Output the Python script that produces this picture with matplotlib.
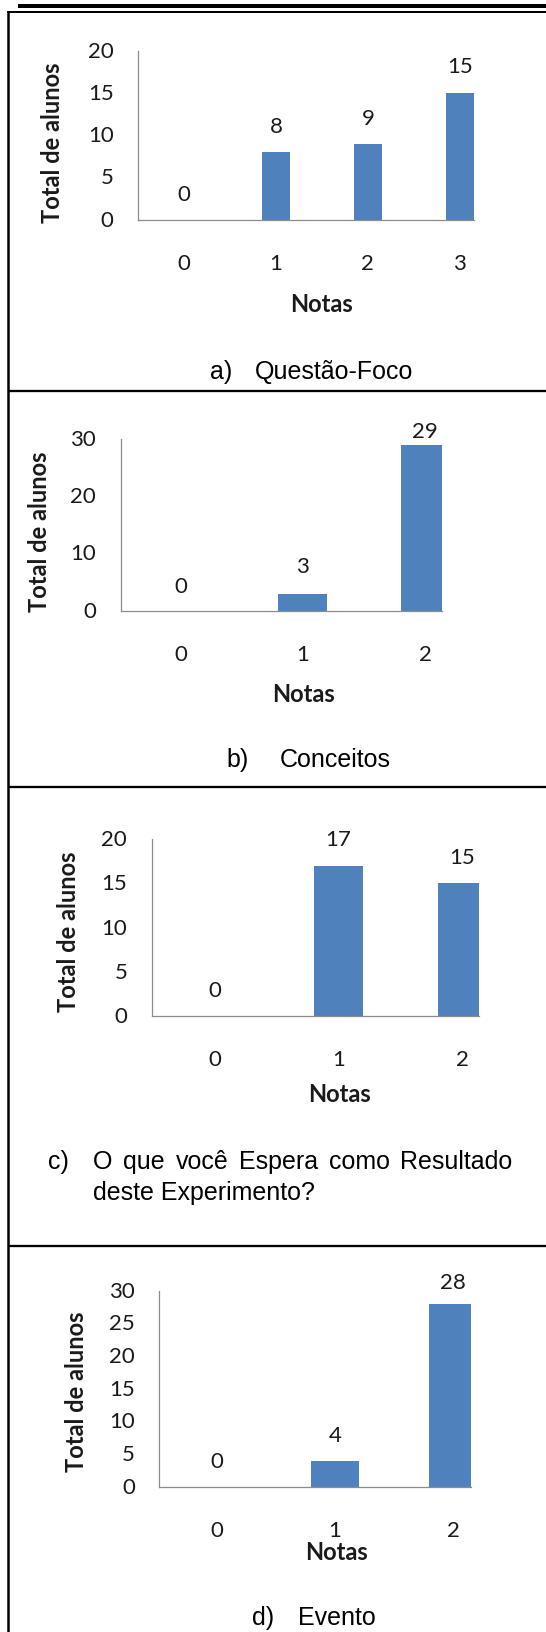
import matplotlib
matplotlib.use("Agg")
import matplotlib.pyplot as plt
from matplotlib.lines import Line2D

# ================= Data =================
notas_a = ["0", "1", "2", "3"]
alunos_a = [0, 8, 9, 15]
yticks_a = [0, 5, 10, 15, 20]

notas_b = ["0", "1", "2"]
alunos_b = [0, 3, 29]
yticks_b = [0, 10, 20, 30]

notas_c = ["0", "1", "2"]
alunos_c = [0, 17, 15]
yticks_c = [0, 5, 10, 15, 20]

notas_d = ["0", "1", "2"]
alunos_d = [0, 4, 28]
yticks_d = [0, 5, 10, 15, 20, 25, 30]

caption_tags = ["a)", "b)", "c)", "d)"]
caption_lines = [["Questão-Foco"], ["Conceitos"],
                 ["O que você Espera como Resultado", "deste Experimento?"], ["Evento"]]

Y_LABEL = "Total de alunos"
X_LABEL = "Notas"
# ========================================

W, H = 546, 1633
DPI = 100
BAR_COLOR = "#4F81BD"
AXIS_COLOR = "#8C8C8C"
TEXT_COLOR = "#1A1A1A"
CHART_FONT = "Lato"
CAPTION_FONT = "Liberation Sans"
TICK_SIZE = 16
TITLE_SIZE = 17
CAPTION_SIZE = 18


def px2pt(px):
    return px * 72.0 / DPI


def fig_box(l, t, r, b):
    return [l / W, 1 - b / H, (r - l) / W, (b - t) / H]


# layout per panel (pixels in the full image)
panels = [
    dict(notas=notas_a, vals=alunos_a, yticks=yticks_a,
         box=(138, 51.7, 474, 220.7), xlim=(-0.5, 3.155), width=0.31,
         lab_off=[26, 26, 26, 27], ylab=(53, 143), xlab=(322, 305),
         tag=(210, 372), text=(255, 372), line_step=31.3, justify_to=None),
    dict(notas=notas_b, vals=alunos_b, yticks=yticks_b,
         box=(120.7, 440, 442.3, 611.7), xlim=(-0.49, 2.14), width=0.40,
         lab_off=[25, 28, 14], ylab=(40, 532), xlab=(303, 695),
         tag=(226.7, 760), text=(280, 760), line_step=31.3, justify_to=None),
    dict(notas=notas_c, vals=alunos_c, yticks=yticks_c,
         box=(151.7, 840, 478.7, 1017.3), xlim=(-0.505, 2.13), width=0.40,
         lab_off=[26, 26.5, 26], ylab=(68, 932), xlab=(339, 1095),
         tag=(48, 1161.7), text=(93, 1161.7), line_step=31.3, justify_to=512.7),
    dict(notas=notas_d, vals=alunos_d, yticks=yticks_d,
         box=(159.3, 1291.7, 471, 1487.7), xlim=(-0.485, 2.15), width=0.405,
         lab_off=[26, 25.5, 21.5], ylab=(76.7, 1391.7), xlab=(336.7, 1553),
         tag=(251.7, 1618), text=(297.7, 1618), line_step=31.3, justify_to=None),
]

fig = plt.figure(figsize=(W / DPI, H / DPI), dpi=DPI)
fig.patch.set_facecolor("white")

justify_jobs = []

for i, p in enumerate(panels):
    ax = fig.add_axes(fig_box(*p["box"]))
    x = list(range(len(p["notas"])))
    ax.bar(x, p["vals"], width=p["width"], color=BAR_COLOR, edgecolor="none", zorder=2)
    ax.set_xlim(*p["xlim"])
    ax.set_ylim(0, p["yticks"][-1])
    ax.set_yticks(p["yticks"])
    ax.set_xticks(x)
    ax.set_xticklabels(p["notas"])
    for side in ("top", "right"):
        ax.spines[side].set_visible(False)
    for side in ("left", "bottom"):
        ax.spines[side].set_color(AXIS_COLOR)
        ax.spines[side].set_linewidth(0.9)
    ax.tick_params(axis="y", length=0, pad=px2pt(24.5), labelsize=TICK_SIZE,
                   labelcolor=TEXT_COLOR)
    ax.tick_params(axis="x", length=0, pad=px2pt(43), labelsize=TICK_SIZE,
                   labelcolor=TEXT_COLOR)
    for lbl in ax.get_xticklabels():
        lbl.set_va("center")
        lbl.set_family(CHART_FONT)
    for lbl in ax.get_yticklabels():
        lbl.set_va("center")
        lbl.set_family(CHART_FONT)
    ax.patch.set_alpha(0)

    # value labels above each bar
    for xi, v, off in zip(x, p["vals"], p["lab_off"]):
        ax.annotate(str(v), (xi, v), xytext=(0, px2pt(off)), textcoords="offset points",
                    ha="center", va="center", fontsize=TICK_SIZE, color=TEXT_COLOR,
                    family=CHART_FONT, clip_on=False)

    # axis titles
    fig.text(p["ylab"][0] / W, 1 - p["ylab"][1] / H, Y_LABEL, rotation=90,
             ha="center", va="center", fontsize=TITLE_SIZE, fontweight="bold",
             family=CHART_FONT, color=TEXT_COLOR)
    fig.text(p["xlab"][0] / W, 1 - p["xlab"][1] / H, X_LABEL,
             ha="center", va="center", fontsize=TITLE_SIZE, fontweight="bold",
             family=CHART_FONT, color=TEXT_COLOR)

    # caption (tag + one or more lines)
    fig.text(p["tag"][0] / W, 1 - p["tag"][1] / H, caption_tags[i],
             ha="left", va="center", fontsize=CAPTION_SIZE, family=CAPTION_FONT,
             color="black")
    for k, line in enumerate(caption_lines[i]):
        y = 1 - (p["text"][1] + k * p["line_step"]) / H
        last = k == len(caption_lines[i]) - 1
        if p["justify_to"] is not None and not last:
            words = [fig.text(0, y, w, ha="left", va="center", fontsize=CAPTION_SIZE,
                              family=CAPTION_FONT, color="black") for w in line.split()]
            justify_jobs.append((words, p["text"][0], p["justify_to"]))
        else:
            fig.text(p["text"][0] / W, y, line, ha="left", va="center",
                     fontsize=CAPTION_SIZE, family=CAPTION_FONT, color="black")

# spread the words of justified lines between the two margins
fig.canvas.draw()
renderer = fig.canvas.get_renderer()
for words, x0, x1 in justify_jobs:
    widths = [t.get_window_extent(renderer).width for t in words]
    gap = (x1 - x0 - sum(widths)) / (len(words) - 1)
    xpos = x0
    for t, wd in zip(words, widths):
        t.set_x(xpos / W)
        xpos += wd + gap


# frame lines of the table
def hline(y, x0, x1, lw):
    fig.add_artist(Line2D([x0 / W, x1 / W], [1 - y / H, 1 - y / H], color="black",
                          linewidth=px2pt(lw), solid_capstyle="butt"))


def vline(x, y0, y1, lw):
    fig.add_artist(Line2D([x / W, x / W], [1 - y0 / H, 1 - y1 / H], color="black",
                          linewidth=px2pt(lw), solid_capstyle="butt"))


hline(7, 18, W, 4)
hline(13, 7, W, 2)
vline(8, 12, H, 2.5)
for ys in (392.3, 788.3, 1246.7):
    hline(ys, 8, W, 2.3)

fig.savefig("out.png", dpi=DPI)
